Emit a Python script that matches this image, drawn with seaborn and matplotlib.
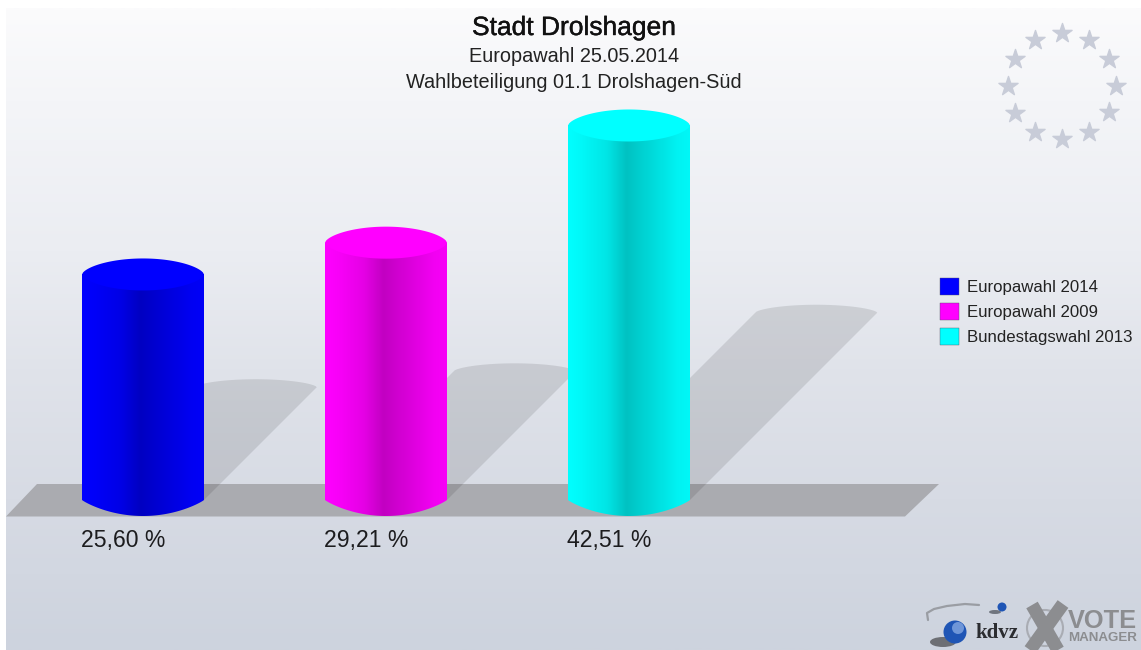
import numpy as np
import pandas as pd
import seaborn as sns
import matplotlib
matplotlib.use("Agg")
import matplotlib.pyplot as plt
from matplotlib.patches import Polygon, Ellipse, Circle
from matplotlib.colors import LinearSegmentedColormap, to_rgb
import matplotlib.patheffects as pe

# ---------- data ----------
elections = ["Europawahl 2014", "Europawahl 2009", "Bundestagswahl 2013"]
turnout = [25.60, 29.21, 42.51]
bar_colors = ["#0000ff", "#ff00ff", "#00ffff"]
title_main = "Stadt Drolshagen"
title_sub1 = "Europawahl 25.05.2014"
title_sub2 = "Wahlbeteiligung 01.1 Drolshagen-Süd"

# ---------- layout ----------
W, H = 1141, 650
PX_CAT = 243.0      # pixels per category
X0 = 143.0          # pixel of first category
Y0 = 500.0          # pixel of value 0
PX_VAL = 8.81       # pixels per percentage point
BAR_W = 0.502
CAP_PX = 16.0       # half-height of caps in pixels

sns.set_style("white")
plt.rcParams["font.family"] = ["Liberation Sans", "DejaVu Sans"]
fig = plt.figure(figsize=(W / 100, H / 100), dpi=100, facecolor="white")

# ---------- backdrop (pixel coordinates) ----------
bg = fig.add_axes([0, 0, 1, 1], zorder=0)
stops_y = np.array([8, 100, 250, 370, 500, 650]) / H
stops_c = ["#fbfbfc", "#f4f5f8", "#ebedf2", "#e0e3ea", "#d7dbe4", "#cdd3de"]
grad_cmap = LinearSegmentedColormap.from_list(
    "bg", [(0, stops_c[0])] + [((s - stops_y[0]) / (1 - stops_y[0]), c) for s, c in zip(stops_y[1:], stops_c[1:])])
bg.imshow(np.linspace(0, 1, 400)[:, None], extent=(6, W, H, 8), cmap=grad_cmap,
          aspect="auto", zorder=0, vmin=0, vmax=1)
bg.set_xlim(0, W)
bg.set_ylim(H, 0)
bg.axis("off")

# ground plate
bg.add_patch(Polygon([(6, 516.5), (37, 484), (939, 484), (905, 516.5)],
                     closed=True, fc="#aaabb0", ec="none", zorder=1))

# EU stars
angles = np.deg2rad(np.arange(0, 360, 30))
bg.scatter(1062 + 54 * np.sin(angles), 86 - 53 * np.cos(angles), marker="*", s=210,
           c="#c8ccd8", edgecolors="#c8ccd8", linewidths=1.0, zorder=2)

# kdvz logo
bg.plot([979, 965, 947, 934, 927, 928], [605, 604, 606, 609, 613, 620],
        color="#9a9da3", lw=1.6, zorder=3, solid_capstyle="round")
bg.add_patch(Ellipse((943, 642), 26, 10, fc="#55565a", ec="none", alpha=0.8, zorder=3))
bg.add_patch(Circle((955, 632), 11.5, fc="#1f55b5", ec="none", zorder=4))
bg.add_patch(Circle((958, 628), 6, fc="#6f96d8", ec="none", zorder=4))
bg.add_patch(Ellipse((995, 612), 12, 4, fc="#70757f", ec="none", zorder=3))
bg.add_patch(Circle((1002, 607), 4.5, fc="#1f55b5", ec="none", zorder=4))
bg.text(975, 633, "kdvz", family="Liberation Serif", weight="bold", fontsize=15,
        color="#2b2c30", ha="left", va="center", zorder=4)

# vote manager logo
bg.add_patch(Circle((1045, 628), 18, fc="none", ec="#a9acb3", lw=1.5, zorder=3))
bg.plot([1032, 1058], [605, 650], color="#8c8d90", lw=9.5, zorder=4, solid_capstyle="butt")
bg.plot([1063, 1030], [604, 650], color="#8c8d90", lw=9.5, zorder=4, solid_capstyle="butt")
bg.text(1068, 621, "VOTE", weight="bold", fontsize=18.3, color="#8c8d90",
        ha="left", va="center", zorder=4)
bg.text(1068, 638, "MANAGER", weight="bold", fontsize=9.6, color="#8c8d90",
        ha="left", va="center", zorder=4)

# ---------- main axes ----------
ax = fig.add_axes([0, 0, 1, 1], zorder=1)
ax.patch.set_alpha(0)
df = pd.DataFrame({"election": elections, "turnout": turnout})
sns.barplot(data=df, x="election", y="turnout", hue="election", hue_order=elections,
            palette=bar_colors, saturation=1, width=BAR_W, dodge=False, legend=True,
            linewidth=0, ax=ax, zorder=3)
XLIM = (-X0 / PX_CAT, (W - X0) / PX_CAT)
YLIM = ((Y0 - H) / PX_VAL, Y0 / PX_VAL)

shade_t = np.array([0.0, 0.12, 0.32, 0.48, 0.52, 0.70, 0.90, 1.0])
shade_v = np.array([1.0, 0.97, 0.90, 0.76, 0.78, 0.86, 0.95, 0.97])

cap_val = CAP_PX / PX_VAL
u = np.linspace(-1, 1, 120)
top_arc = (1 - u ** 2) ** 0.62
low_arc = (1 - u ** 2) ** 0.9
half = BAR_W / 2
for i, (val, col) in enumerate(zip(turnout, bar_colors)):
    xs = i + u * half
    rgb = np.array(to_rgb(col))
    # slanted shadow thrown by the column
    shift_px = 0.5 * val * PX_VAL
    top_x = xs + shift_px / PX_CAT
    top_y = val * 0.5 + top_arc * (8.0 / PX_VAL)
    sx = np.r_[i - half, top_x, i + half]
    sy = np.r_[0, top_y, 0]
    ax.add_patch(Polygon(np.c_[sx, sy], closed=True, fc="#000000", ec="none", alpha=0.105, zorder=1))

    # cylinder body with horizontal gradient
    body = np.c_[np.r_[xs[0], xs, xs[-1]],
                 np.r_[val, -low_arc * cap_val, val]]
    tt = np.linspace(0, 1, 244)
    shade = np.interp(tt, shade_t, shade_v)
    img = (shade[:, None] * rgb[None, :])[None, :, :]
    im = ax.imshow(img, extent=(i - half, i + half, -cap_val, val), aspect="auto",
                   interpolation="bilinear", zorder=4)
    clip = Polygon(body, closed=True, transform=ax.transData, fc="none", ec="none")
    ax.add_patch(clip)
    im.set_clip_path(clip)

    # top cap
    cap = np.c_[np.r_[xs, xs[::-1]], np.r_[val + top_arc * cap_val, val - top_arc[::-1] * cap_val]]
    ax.add_patch(Polygon(cap, closed=True, fc=col, ec="none", zorder=5))

    # value label under the column
    ax.annotate(f"{val:.2f} %".replace(".", ","), xy=(i - half, 0), xytext=(-1, -40),
                textcoords="offset pixels", ha="left", va="center",
                fontsize=16.6, color="#1c1c1e", zorder=6)

ax.set_xlim(*XLIM)
ax.set_ylim(*YLIM)
ax.axis("off")

# ---------- titles ----------
ax.text(574 / W, 1 - 28 / H, title_main, transform=ax.transAxes, ha="center", va="center",
        fontsize=19, color="#111111",
        path_effects=[pe.withStroke(linewidth=0.3, foreground="#111111")])
ax.text(574 / W, 1 - 56 / H, title_sub1, transform=ax.transAxes, ha="center", va="center",
        fontsize=14.3, color="#222222")
ax.text(574 / W, 1 - 82 / H, title_sub2, transform=ax.transAxes, ha="center", va="center",
        fontsize=14.3, color="#222222")

# ---------- legend ----------
handles, labels = ax.get_legend_handles_labels()
leg = ax.legend(handles, labels, loc="upper left", bbox_to_anchor=(938 / W, 1 - 275.5 / H),
                bbox_transform=ax.transAxes, frameon=False, fontsize=12.1,
                handlelength=1.13, handleheight=1.25, handletextpad=0.45, labelspacing=0.43,
                borderpad=0.12, borderaxespad=0, labelcolor="#222222")
for h in leg.legend_handles:
    h.set_edgecolor("#55556a")
    h.set_linewidth(0.3)

fig.savefig("out.png", dpi=100, facecolor="white")
